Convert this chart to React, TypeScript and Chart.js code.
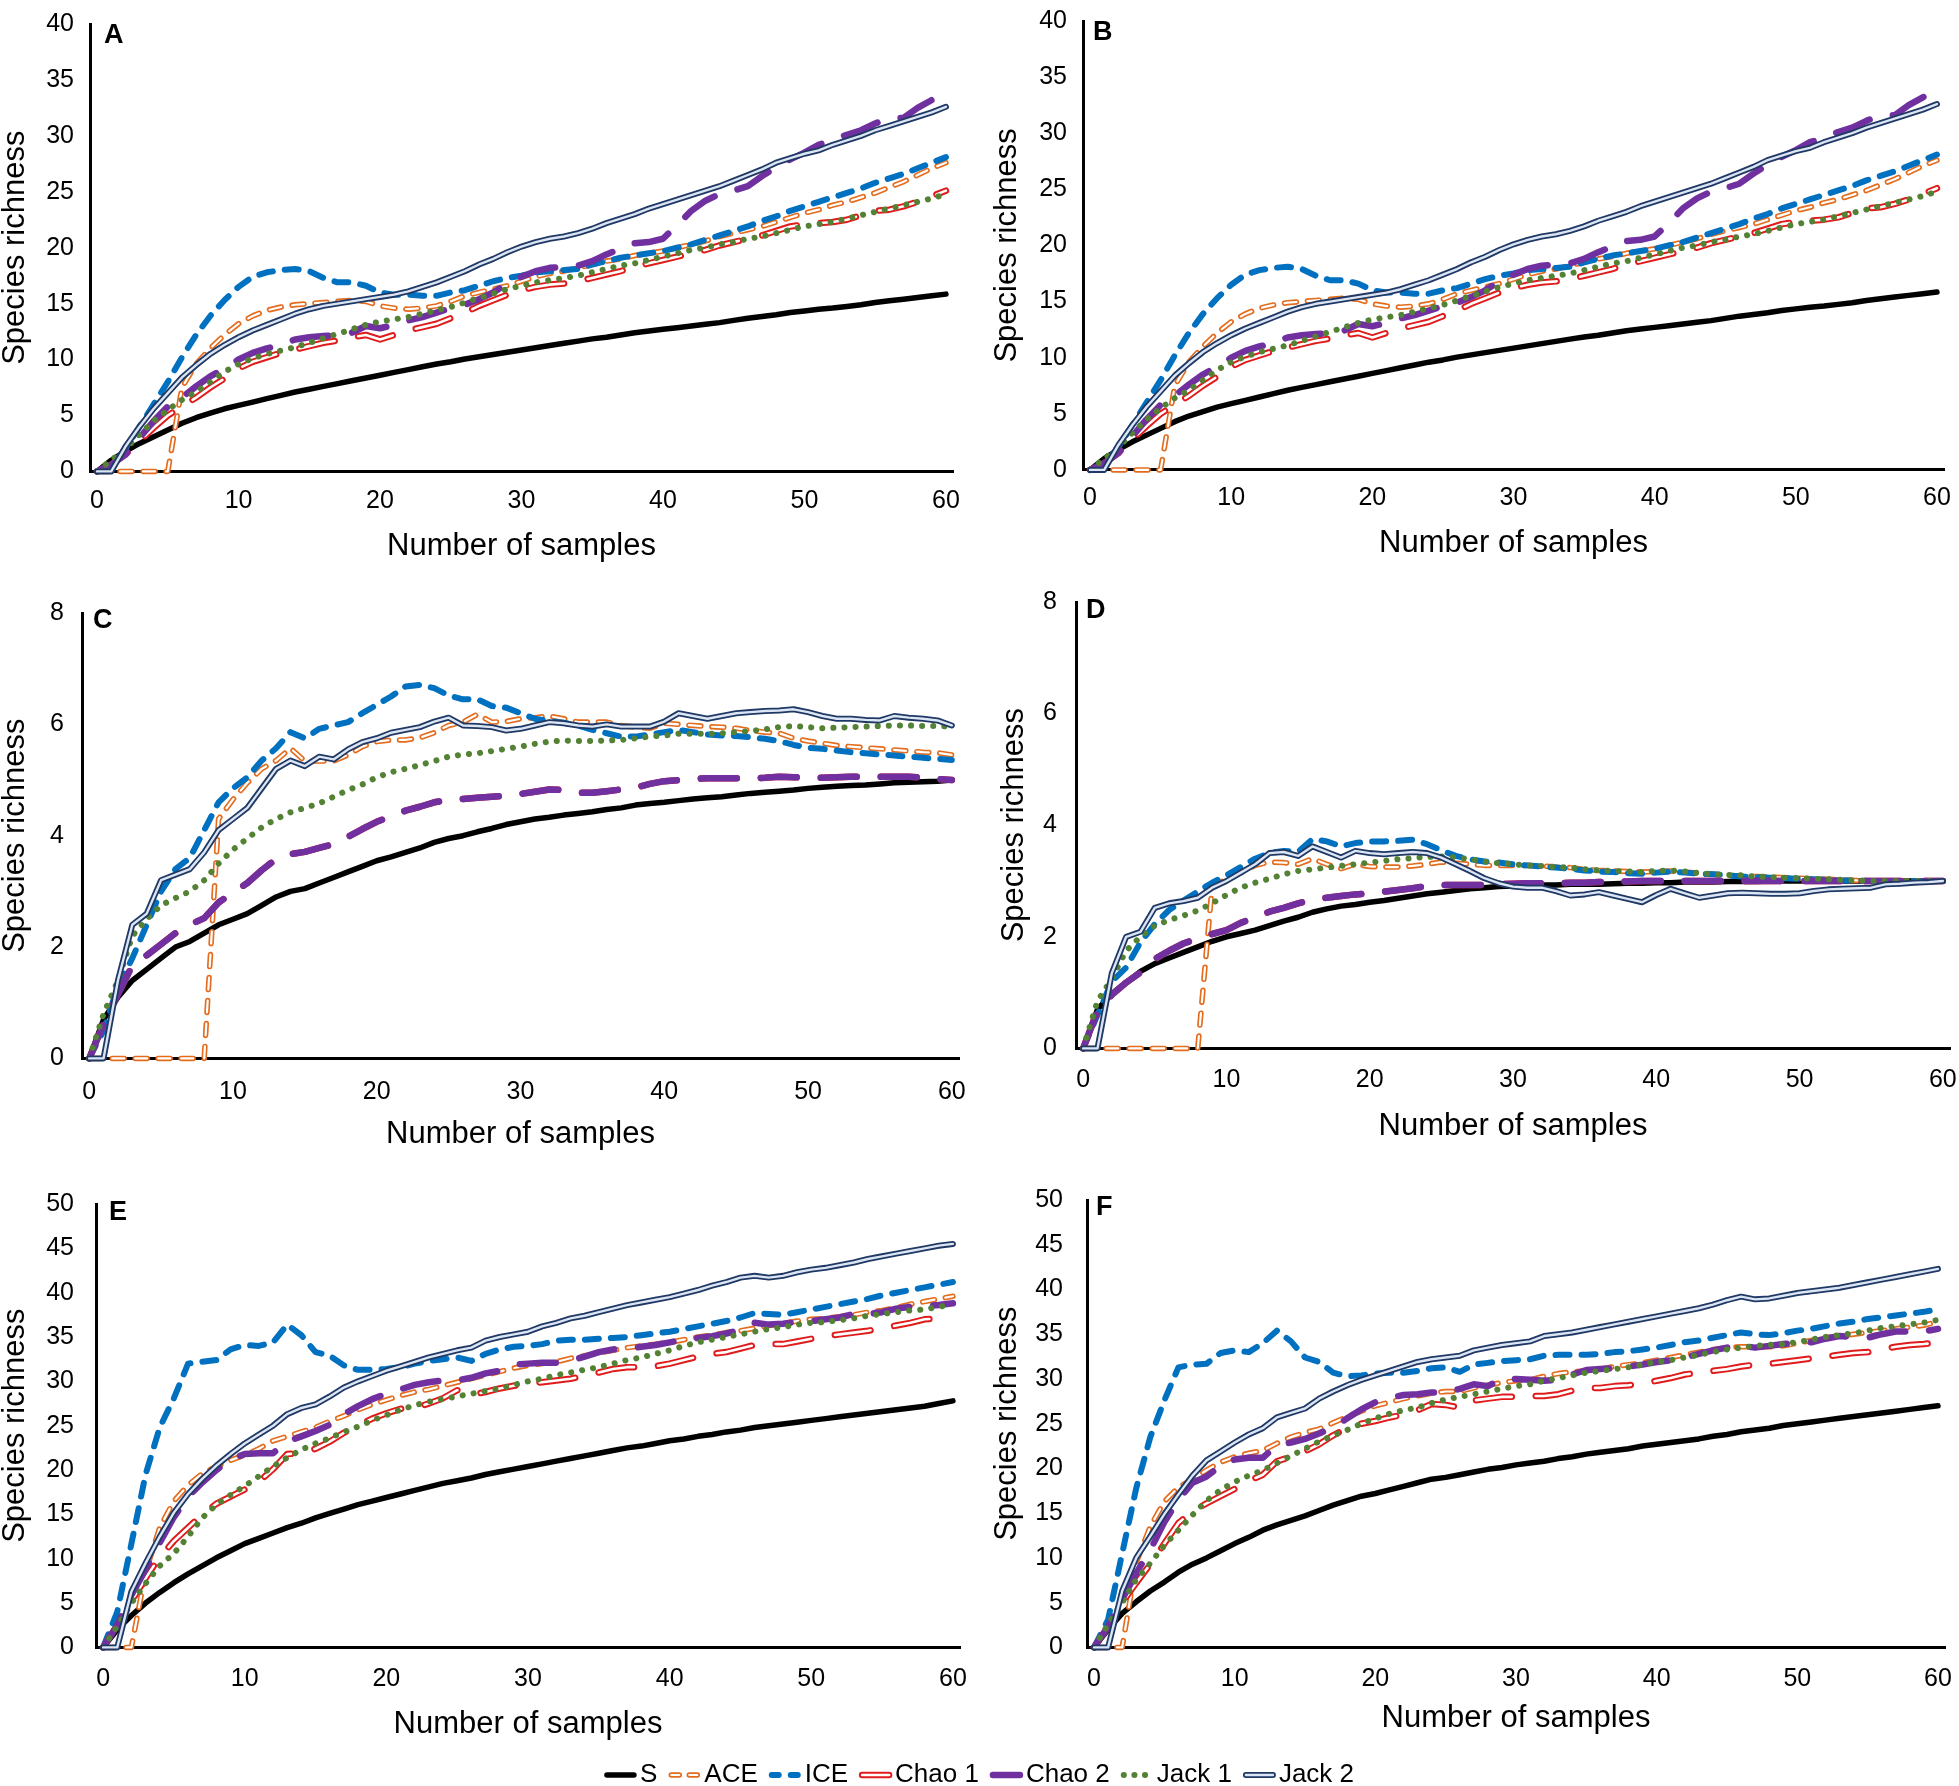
import React, { useEffect, useRef } from 'react';
import { Chart, registerables } from 'chart.js';

Chart.register(...registerables);

// ---------- categories / tick labels ----------
const SAMPLES: string[] = Array.from({ length: 61 }, (_, i) => String(i));
const X_LABEL_EVERY = 10;
const SERIES_NAMES = ['S', 'ACE', 'ICE', 'Chao 1', 'Chao 2', 'Jack 1', 'Jack 2'];
const X_TITLE = 'Number of samples';
const Y_TITLE = 'Species richness';

// ---------- panel A ----------
const A_S = [0,1.0,1.8,2.5,3.1,3.7,4.3,4.8,5.2,5.6, 5.9,6.2,6.5,6.8,7.1,7.35,7.6,7.85,8.1,8.35, 8.6,8.85,9.1,9.35,9.6,9.8,10.05,10.25,10.45,10.65, 10.85,11.05,11.25,11.45,11.65,11.85,12.0,12.2,12.4,12.55, 12.7,12.85,13.0,13.15,13.3,13.5,13.7,13.85,14.0,14.2, 14.35,14.5,14.6,14.75,14.9,15.1,15.25,15.4,15.55,15.7, 15.85];
const A_ACE = [0,0,0,0,0,0,7.5,9.6,11.0,12.2, 13.2,13.9,14.4,14.7,14.9,15.0,15.1,15.2,15.3,15.2, 14.8,14.6,14.5,14.6,14.8,15.2,15.7,16.0,16.3,16.6, 17.0,17.4,17.7,17.9,18.2,18.5,18.8,19.0,19.3,19.5, 19.7,20.0,20.3,20.6,21.0,21.3,21.6,21.9,22.3,22.7, 23.1,23.4,23.8,24.1,24.5,24.9,25.4,25.9,26.5,27.1, 27.6];
const A_ICE = [0,0.5,2.0,4.0,6.0,8.0,10.2,12.2,13.9,15.3, 16.5,17.4,17.8,18.0,18.1,17.9,17.3,16.9,16.9,16.6, 16.0,15.8,15.8,15.7,15.7,16.0,16.2,16.6,17.0,17.3, 17.5,17.8,17.9,18.0,18.1,18.5,18.8,19.1,19.3,19.5, 19.7,20.0,20.3,20.7,21.1,21.5,21.9,22.4,22.8,23.3, 23.7,24.1,24.5,24.9,25.3,25.8,26.2,26.6,27.1,27.6, 28.1];
const A_CHAO1 = [0,0.6,1.5,2.7,3.9,5.0,5.8,6.6,7.5,8.3, 9.2,9.8,10.2,10.6,10.9,11.2,11.5,11.7,12.0,12.2, 11.8,12.2,12.6,12.9,13.2,13.7,14.2,14.8,15.3,15.8, 16.2,16.5,16.7,16.8,17.0,17.3,17.6,17.9,18.3,18.6, 18.9,19.2,19.5,19.8,20.2,20.5,20.8,21.1,21.5,21.9, 22.1,22.2,22.3,22.5,22.9,23.3,23.4,23.7,24.1,24.6, 25.1];
const A_CHAO2 = [0,0.6,1.5,3.0,4.5,5.8,6.6,7.6,8.5,9.2, 10.0,10.6,11.0,11.3,11.8,12.0,12.1,12.2,12.4,13.0, 12.8,13.1,13.5,13.8,14.2,14.6,14.9,15.4,16.0,16.8, 17.4,17.9,18.2,18.3,18.4,18.8,19.4,19.9,20.4,20.5, 20.8,22.0,23.3,24.2,24.8,25.1,25.5,26.4,27.2,27.9, 28.5,29.2,29.6,30.1,30.5,31.1,31.6,31.6,32.5,33.2, 33.8];
const A_JACK1 = [0,1.0,2.0,3.3,4.5,5.5,6.4,7.1,8.0,8.9, 9.6,10.1,10.5,10.8,11.1,11.5,11.9,12.3,12.7,13.1, 13.4,13.6,13.8,14.1,14.4,14.7,15.1,15.5,15.9,16.3, 16.6,16.9,17.1,17.3,17.5,17.8,18.1,18.4,18.6,18.9, 19.2,19.5,19.8,20.0,20.3,20.5,20.8,21.0,21.3,21.6, 21.9,22.1,22.3,22.6,22.9,23.2,23.5,23.8,24.1,24.4, 24.8];
const A_JACK2 = [0,0,2.2,4.0,5.6,7.0,8.4,9.5,10.5,11.3, 12.0,12.6,13.1,13.6,14.1,14.5,14.8,15.0,15.2,15.4, 15.6,15.8,16.1,16.5,16.9,17.4,17.9,18.5,19.0,19.6, 20.1,20.5,20.8,21.0,21.3,21.7,22.2,22.6,23.0,23.5, 23.9,24.3,24.7,25.1,25.5,26.0,26.5,27.0,27.6,28.0, 28.4,28.7,29.2,29.6,30.0,30.5,30.9,31.3,31.7,32.1, 32.6];

// ---------- panel B (same curves as A) ----------
const B_S = A_S;
const B_ACE = A_ACE;
const B_ICE = A_ICE;
const B_CHAO1 = A_CHAO1;
const B_CHAO2 = A_CHAO2;
const B_JACK1 = A_JACK1;
const B_JACK2 = A_JACK2;

// ---------- panel C ----------
const C_S = [0,0.7,1.1,1.4,1.6,1.8,2.0,2.1,2.25,2.4, 2.5,2.6,2.75,2.9,3.0,3.05,3.15,3.25,3.35,3.45, 3.55,3.62,3.7,3.78,3.88,3.95,4.0,4.07,4.13,4.2, 4.25,4.3,4.33,4.37,4.4,4.43,4.47,4.5,4.55,4.58, 4.6,4.63,4.66,4.68,4.7,4.73,4.76,4.78,4.8,4.82, 4.85,4.87,4.89,4.9,4.91,4.93,4.95,4.96,4.97,4.98, 5.0];
const C_ACE = [0,0,0,0,0,0,0,0,0,4.3, 4.65,4.95,5.2,5.35,5.57,5.34,5.34,5.34,5.45,5.6, 5.69,5.72,5.72,5.76,5.85,5.98,6.04,6.18,6.04,6.05, 6.1,6.12,6.15,6.1,6.04,6.04,6.04,5.98,5.95,5.93, 6.02,6.0,5.98,5.96,5.95,5.93,5.89,5.86,5.84,5.75, 5.7,5.66,5.62,5.6,5.58,5.56,5.54,5.52,5.5,5.49, 5.45];
const C_ICE = [0,0.5,1.3,1.8,2.4,3.0,3.4,3.6,4.1,4.6, 4.85,5.05,5.35,5.57,5.86,5.75,5.92,5.98,6.04,6.2, 6.35,6.5,6.68,6.71,6.65,6.52,6.45,6.45,6.33,6.3, 6.2,6.1,6.06,6.03,5.98,5.9,5.84,5.78,5.78,5.82, 5.86,5.9,5.86,5.82,5.8,5.79,5.77,5.74,5.7,5.63, 5.58,5.56,5.53,5.5,5.48,5.46,5.44,5.42,5.4,5.38, 5.36];
const C_CHAO2 = [0,0.62,1.15,1.67,1.85,2.05,2.25,2.4,2.52,2.8, 2.98,3.15,3.38,3.58,3.67,3.71,3.78,3.85,3.98,4.12, 4.25,4.35,4.45,4.52,4.6,4.64,4.66,4.68,4.7,4.72, 4.75,4.79,4.83,4.82,4.77,4.77,4.8,4.83,4.86,4.93, 4.98,5.0,5.02,5.03,5.03,5.03,5.03,5.04,5.06,5.05, 5.04,5.04,5.05,5.06,5.06,5.06,5.06,5.06,5.04,5.02, 5.0];
const C_CHAO1 = C_CHAO2;
const C_JACK1 = [0,0.8,1.4,2.2,2.5,2.75,2.88,3.0,3.2,3.5, 3.75,3.95,4.15,4.3,4.42,4.5,4.58,4.7,4.82,4.92, 5.05,5.14,5.2,5.27,5.34,5.42,5.46,5.48,5.52,5.56, 5.6,5.65,5.69,5.71,5.7,5.7,5.71,5.72,5.75,5.78, 5.8,5.83,5.83,5.83,5.84,5.86,5.88,5.91,5.95,5.97, 5.95,5.93,5.94,5.95,5.96,5.97,5.98,5.98,5.97,5.97, 5.96];
const C_JACK2 = [0,0,1.4,2.4,2.6,3.2,3.3,3.4,3.7,4.1, 4.3,4.5,4.85,5.2,5.35,5.25,5.42,5.37,5.55,5.68, 5.75,5.85,5.9,5.95,6.05,6.12,5.98,5.97,5.95,5.89, 5.92,5.98,6.04,6.02,5.98,5.96,6.0,5.96,5.96,5.96, 6.05,6.2,6.15,6.1,6.15,6.2,6.22,6.24,6.25,6.27, 6.22,6.15,6.1,6.1,6.08,6.07,6.15,6.12,6.1,6.07, 5.98];

// ---------- panel D ----------
const D_S = [0,0.7,0.98,1.18,1.38,1.52,1.62,1.72,1.82,1.92, 2.0,2.06,2.12,2.2,2.28,2.35,2.44,2.5,2.55,2.58, 2.62,2.65,2.69,2.73,2.77,2.8,2.83,2.86,2.88,2.9, 2.91,2.92,2.93,2.93,2.94,2.94,2.94,2.95,2.96,2.96, 2.97,2.97,2.98,2.98,2.98,2.99,2.99,2.99,3.0,3.0, 3.0,3.0,3.0,3.0,3.0,3.0,3.0,3.0,3.0,3.0, 3.0];
const D_ACE = [0,0,0,0,0,0,0,0,0,2.9, 3.04,3.15,3.28,3.34,3.33,3.3,3.4,3.3,3.22,3.3, 3.26,3.25,3.25,3.27,3.3,3.34,3.32,3.3,3.28,3.28, 3.28,3.28,3.27,3.25,3.24,3.21,3.19,3.18,3.17,3.16, 3.17,3.18,3.16,3.14,3.12,3.1,3.09,3.08,3.07,3.06, 3.05,3.04,3.03,3.02,3.01,3.0,3.0,3.0,3.0,3.0, 3.0];
const D_ICE = [0,0.6,1.2,1.45,1.9,2.23,2.48,2.65,2.81,2.97, 3.1,3.25,3.4,3.5,3.54,3.52,3.75,3.71,3.62,3.68, 3.71,3.71,3.72,3.74,3.66,3.55,3.45,3.39,3.35,3.33, 3.3,3.28,3.26,3.24,3.22,3.19,3.17,3.16,3.14,3.13, 3.15,3.17,3.15,3.13,3.12,3.1,3.08,3.07,3.06,3.05, 3.04,3.03,3.02,3.01,3.01,3.0,3.0,3.0,3.0,3.0, 3.0];
const D_CHAO2 = [0,0.67,0.96,1.18,1.36,1.6,1.75,1.88,1.97,2.05, 2.12,2.25,2.35,2.45,2.52,2.6,2.67,2.7,2.73,2.76, 2.78,2.81,2.84,2.87,2.91,2.93,2.93,2.93,2.93,2.94, 2.95,2.96,2.96,2.96,2.97,2.97,2.98,2.99,2.99,3.0, 3.0,3.0,3.0,3.0,3.0,3.0,3.0,3.0,3.0,3.0, 3.0,3.0,3.0,3.0,3.0,3.0,3.0,3.0,3.0,3.0, 3.0];
const D_CHAO1 = D_CHAO2;
const D_JACK1 = [0,0.85,1.25,1.75,2.0,2.2,2.3,2.38,2.47,2.6, 2.75,2.88,2.97,3.04,3.12,3.18,3.21,3.24,3.27,3.3, 3.33,3.36,3.39,3.41,3.43,3.44,3.42,3.39,3.35,3.32, 3.3,3.28,3.27,3.25,3.24,3.21,3.19,3.18,3.17,3.16, 3.18,3.19,3.17,3.14,3.12,3.11,3.1,3.08,3.07,3.06, 3.05,3.04,3.03,3.02,3.01,3.0,3.0,3.0,3.0,3.0, 3.0];
const D_JACK2 = [0,0,1.35,2.0,2.09,2.52,2.6,2.64,2.7,2.88, 3.0,3.15,3.3,3.5,3.52,3.45,3.62,3.52,3.42,3.54, 3.5,3.48,3.5,3.52,3.5,3.42,3.3,3.18,3.05,2.96, 2.9,2.88,2.88,2.82,2.74,2.76,2.8,2.74,2.68,2.62, 2.75,2.86,2.78,2.7,2.74,2.78,2.79,2.78,2.77,2.77, 2.78,2.82,2.85,2.86,2.87,2.88,2.94,2.95,2.97,2.98, 3.0];

// ---------- panel E ----------
const E_S = [0,2.0,3.6,5.0,6.2,7.3,8.3,9.2,10.1,10.9, 11.7,12.3,12.9,13.5,14.0,14.6,15.1,15.6,16.1,16.5, 16.9,17.3,17.7,18.1,18.5,18.8,19.1,19.5,19.8,20.1, 20.4,20.7,21.0,21.3,21.6,21.9,22.2,22.5,22.7,23.0, 23.3,23.5,23.8,24.0,24.3,24.5,24.8,25.0,25.2,25.4, 25.6,25.8,26.0,26.2,26.4,26.6,26.8,27.0,27.2,27.5, 27.8];
const E_ACE = [0,0,0,8.5,13.5,16.5,18.3,19.6,20.4,21.1, 21.7,22.4,23.3,23.8,24.3,24.8,25.5,26.1,26.8,27.4, 27.9,28.4,28.8,29.1,29.5,29.9,30.3,30.7,31.1,31.5, 31.8,32.0,32.2,32.6,32.9,33.2,33.5,33.8,34.0,34.2, 34.4,34.7,35.0,35.2,35.5,35.7,36.0,36.3,36.5,36.8, 37.0,37.1,37.3,37.5,37.8,38.0,38.3,38.7,39.0,39.3, 39.6];
const E_ICE = [0,4.0,11.7,19.5,24.8,28.1,32.0,32.2,32.4,33.6, 34.1,34.0,34.4,36.4,35.2,33.3,32.9,31.8,31.3,31.3, 31.4,31.6,32.0,32.3,32.5,32.7,32.3,33.1,33.6,33.9, 34.0,34.2,34.6,34.7,34.7,34.8,34.9,35.0,35.2,35.4, 35.6,35.9,36.2,36.5,36.8,37.2,37.7,37.6,37.5,37.8, 38.1,38.4,38.7,39.0,39.3,39.7,40.0,40.3,40.6,40.9, 41.2];
const E_CHAO1 = [0,2.5,5.2,7.8,10.2,12.0,13.5,15.0,16.2,17.0, 17.8,18.7,20.1,21.8,21.9,22.4,23.2,24.2,25.0,25.8, 26.4,26.9,27.0,27.5,28.1,29.0,28.5,28.8,29.2,29.5, 29.8,29.9,30.1,30.3,30.6,31.0,31.4,31.6,31.6,31.7, 32.0,32.4,32.8,33.1,33.3,33.7,34.1,34.2,34.2,34.5, 34.8,35.1,35.3,35.5,35.7,36.0,36.3,36.6,37.0,37.1, 36.9];
const E_CHAO2 = [0,2.5,5.9,8.8,11.8,14.7,17.0,18.6,20.0,21.2, 21.8,21.9,21.9,23.2,23.8,24.4,25.1,26.3,27.2,28.0, 28.6,29.1,29.6,29.9,30.1,30.1,30.4,30.9,31.2,31.9, 32.0,32.1,32.1,32.3,32.8,33.3,33.6,33.7,33.9,34.1, 34.4,34.7,34.9,35.1,35.4,35.8,36.6,36.4,36.5,36.7, 36.8,37.0,37.2,37.6,37.6,37.8,38.2,38.4,38.5,38.6, 38.8];
const E_JACK1 = [0,2.4,5.0,7.2,9.2,10.6,12.5,14.6,16.1,17.2, 18.2,19.3,20.4,21.4,22.3,23.0,23.6,24.3,24.9,25.6, 26.2,26.8,27.3,27.7,28.0,28.3,28.6,28.9,29.2,29.6, 30.0,30.3,30.7,31.0,31.3,31.6,32.0,32.4,32.7,33.1, 33.5,34.0,34.4,34.7,35.0,35.3,35.6,35.9,36.1,36.4, 36.6,36.7,36.9,37.1,37.4,37.6,37.8,38.0,38.1,38.4, 38.7];
const E_JACK2 = [0,0,6.3,9.5,12.5,15.2,17.3,19.0,20.5,21.8, 23.0,24.0,25.0,26.3,27.0,27.4,28.3,29.3,30.0,30.6, 31.2,31.7,32.2,32.7,33.1,33.5,33.8,34.6,35.0,35.3, 35.6,36.2,36.6,37.1,37.4,37.8,38.2,38.6,38.9,39.2, 39.5,39.9,40.3,40.8,41.2,41.7,41.9,41.7,41.9,42.3, 42.6,42.8,43.1,43.4,43.8,44.1,44.4,44.7,45.0,45.3, 45.5];

// ---------- panel F ----------
const F_S = [0,2.0,3.8,5.1,6.3,7.3,8.4,9.3,10.0,10.8, 11.6,12.3,13.1,13.7,14.2,14.7,15.3,15.9,16.4,16.9, 17.2,17.6,18.0,18.4,18.8,19.0,19.3,19.6,19.9,20.1, 20.4,20.6,20.8,21.1,21.3,21.6,21.8,22.0,22.2,22.5, 22.7,22.9,23.1,23.3,23.6,23.8,24.1,24.3,24.5,24.8, 25.0,25.2,25.4,25.6,25.8,26.0,26.2,26.4,26.6,26.8, 27.0];
const F_ACE = [0,0,0,9.5,13.5,16.3,17.9,18.8,19.8,20.7, 21.3,21.7,22.0,22.8,23.5,24.0,24.4,25.1,25.8,26.4, 27.0,27.4,27.8,28.1,28.4,28.6,28.6,29.0,29.3,29.6, 29.8,29.9,30.3,30.6,30.8,30.9,31.1,31.4,31.6,31.8, 32.1,32.4,32.7,33.0,33.3,33.5,33.6,33.6,33.6,33.7, 34.0,34.3,34.6,34.8,35.0,35.2,35.4,35.6,35.8,36.0, 36.4];
const F_ICE = [0,3.1,10.5,17.8,23.5,27.6,31.3,31.6,31.7,32.9, 33.2,33.0,34.0,35.4,34.2,32.4,31.9,30.7,30.3,30.4, 30.6,30.7,30.7,30.9,31.2,31.3,30.8,31.6,31.8,32.0, 32.1,32.2,32.6,32.7,32.7,32.7,32.8,33.0,33.1,33.3, 33.5,33.8,34.1,34.3,34.6,34.9,35.2,35.0,34.9,35.1, 35.4,35.6,35.9,36.2,36.4,36.7,36.9,37.1,37.3,37.5, 37.8];
const F_CHAO1 = [0,2.3,5.0,7.2,9.3,11.6,13.9,15.2,16.1,16.9, 17.7,18.6,19.3,20.8,21.3,21.9,22.7,23.7,24.5,25.0, 25.3,25.7,26.0,26.5,27.2,27.1,26.8,27.6,27.8,28.0, 28.0,28.1,28.1,28.3,28.7,29.0,29.0,29.2,29.3,29.5, 29.8,30.1,30.5,30.7,30.9,31.1,31.4,31.6,31.7,31.9, 32.1,32.3,32.5,32.7,32.9,33.0,33.3,33.6,33.8,33.9, 34.1];
const F_CHAO2 = [0,2.3,5.4,8.3,10.9,14.0,16.5,18.4,19.1,20.3, 21.0,21.2,21.2,22.6,22.9,23.3,23.9,24.6,25.6,26.6, 27.4,27.9,28.2,28.3,28.5,28.5,28.9,29.4,29.2,30.0, 30.0,29.9,29.8,29.9,30.5,31.0,31.1,31.2,31.4,31.6, 31.9,32.1,32.4,32.8,33.2,33.5,33.7,33.5,33.7,33.9, 34.0,34.1,34.5,34.8,34.7,34.6,35.0,35.3,35.3,35.3, 35.6];
const F_JACK1 = [0,2.6,5.0,7.6,9.4,11.4,13.1,14.8,16.4,17.6, 18.5,19.2,19.8,20.6,21.4,22.2,23.0,23.7,24.3,25.0, 25.6,26.1,26.5,26.8,27.3,27.7,28.0,28.3,28.6,28.9, 29.2,29.4,29.8,30.1,30.4,30.7,30.9,31.1,31.3,31.6, 31.9,32.1,32.4,32.7,33.0,33.3,33.5,33.7,33.8,33.9, 34.1,34.4,34.7,34.9,35.1,35.4,35.7,35.9,36.1,36.3, 36.6];
const F_JACK2 = [0,0,6.3,10.0,12.4,14.9,17.1,19.2,20.9,21.9, 22.9,23.8,24.5,25.7,26.2,26.7,27.8,28.6,29.3,29.9, 30.4,30.9,31.4,31.9,32.2,32.4,32.6,33.2,33.5,33.8, 34.0,34.2,34.8,35.0,35.2,35.5,35.8,36.1,36.4,36.7, 37.0,37.3,37.6,37.9,38.3,38.8,39.2,38.9,39.0,39.3, 39.6,39.8,40.0,40.2,40.5,40.8,41.1,41.4,41.7,42.0, 42.3];

// ---------- y-axis ranges ----------
const Y_MAX_AB = 40, Y_STEP_AB = 5;
const Y_MAX_CD = 8, Y_STEP_CD = 2;
const Y_MAX_EF = 50, Y_STEP_EF = 5;

// ---------- styles ----------
const FONT = '"Liberation Sans", Arial, Helvetica, sans-serif';
const TICK_SIZE = 25;
const TITLE_SIZE = 31;
const TITLE_HALF = (TITLE_SIZE * 1.2) / 2;
const LETTER_SIZE = 27;

type Stroke = { color: string; width: number; dash: number[]; legendDash?: number[] };
const STYLES: Stroke[][] = [
  [{ color: '#000000', width: 5.5, dash: [] }],
  [
    { color: '#E46C1E', width: 5.5, dash: [12, 11], legendDash: [8, 10] },
    { color: '#FFFFFF', width: 2.2, dash: [12, 11], legendDash: [8, 10] },
  ],
  [{ color: '#0070C0', width: 6, dash: [14, 12], legendDash: [7, 12] }],
  [
    { color: '#E01B1B', width: 6.5, dash: [36, 24] },
    { color: '#FFFFFF', width: 2.6, dash: [36, 24] },
  ],
  [{ color: '#7030A0', width: 6.5, dash: [36, 24] }],
  [{ color: '#548235', width: 6, dash: [0.1, 11], legendDash: [0.1, 10.5] }],
  [
    { color: '#1F3864', width: 6, dash: [] },
    { color: '#DCE5F4', width: 2.4, dash: [] },
  ],
];

type Lay = {
  L: number; T: number; R: number; B: number;
  xTickPad: number; yTickPad: number; xTitleOff: number; yTitleX: number;
  letterX: number; letterTop: number;
};

const YW = 110; // y-axis box width
const PT = 20; // padding top
const PR = 30; // padding right

function buildDatasets(series: number[][]) {
  const out: any[] = [];
  let order = 100;
  series.forEach((data, si) => {
    STYLES[si].forEach((st) => {
      out.push({
        label: SERIES_NAMES[si],
        data,
        borderColor: st.color,
        backgroundColor: st.color,
        borderWidth: st.width,
        borderDash: st.dash,
        borderCapStyle: 'round',
        borderJoinStyle: 'round',
        pointRadius: 0,
        pointHoverRadius: 0,
        fill: false,
        tension: 0,
        clip: false,
        order: order--,
      });
    });
  });
  return out;
}

function Panel(props: { letter: string; series: number[][]; yMax: number; yStep: number; lay: Lay }) {
  const { letter, series, yMax, yStep, lay } = props;
  const ref = useRef<HTMLCanvasElement | null>(null);
  const XH = lay.xTitleOff + TITLE_HALF;
  const width = Math.round(YW + (lay.R - lay.L) + PR);
  const height = Math.round(PT + (lay.B - lay.T) + XH);
  const left = lay.L - YW;
  const top = lay.T - PT;

  useEffect(() => {
    const canvas = ref.current;
    if (!canvas) return;
    const yTitlePad = YW - (lay.L - lay.yTitleX) - TITLE_HALF;
    const letterPlugin = {
      id: 'panelLetter' + letter,
      afterDraw(chart: any) {
        const ctx = chart.ctx;
        ctx.save();
        ctx.font = `bold ${LETTER_SIZE}px ${FONT}`;
        ctx.fillStyle = '#000';
        ctx.textBaseline = 'alphabetic';
        ctx.textAlign = 'left';
        ctx.fillText(letter, lay.letterX - left, lay.letterTop + LETTER_SIZE * 0.716 - top);
        ctx.restore();
      },
    };
    const chart = new Chart(canvas, {
      type: 'line',
      data: { labels: SAMPLES, datasets: buildDatasets(series) },
      options: {
        responsive: false,
        animation: false,
        devicePixelRatio: 1,
        events: [],
        layout: { padding: { top: PT, right: PR, left: 0, bottom: 0 } },
        plugins: { legend: { display: false }, tooltip: { enabled: false } },
        scales: {
          x: {
            type: 'category',
            offset: true,
            grid: { display: false, drawTicks: false },
            border: { display: true, color: '#000', width: 3 },
            ticks: {
              autoSkip: false,
              maxRotation: 0,
              minRotation: 0,
              padding: lay.xTickPad,
              color: '#000',
              font: { family: FONT, size: TICK_SIZE },
              callback: (_v: any, i: number) => (i % X_LABEL_EVERY === 0 ? SAMPLES[i] : ''),
            },
            title: {
              display: true,
              text: X_TITLE,
              color: '#000',
              font: { family: FONT, size: TITLE_SIZE },
              padding: 0,
            },
            afterFit: (s: any) => {
              s.height = XH;
            },
          },
          y: {
            min: 0,
            max: yMax,
            grid: { display: false, drawTicks: false },
            border: { display: true, color: '#000', width: 3 },
            ticks: {
              stepSize: yStep,
              padding: lay.yTickPad,
              color: '#000',
              font: { family: FONT, size: TICK_SIZE },
            },
            title: {
              display: true,
              text: Y_TITLE,
              color: '#000',
              font: { family: FONT, size: TITLE_SIZE },
              padding: { top: yTitlePad, bottom: 0 },
            },
            afterFit: (s: any) => {
              s.width = YW;
            },
          },
        },
      } as any,
      plugins: [letterPlugin],
    });
    return () => chart.destroy();
  }, []);

  return (
    <canvas
      ref={ref}
      width={width}
      height={height}
      style={{ position: 'absolute', left, top, width, height }}
    />
  );
}

const LEGEND_TOP = 1752;
const LEGEND_HEIGHT = 34;
const LEGEND_CENTER_X = 979;
const LEGEND_CENTER_Y = 1775;

function Legend() {
  const ref = useRef<HTMLCanvasElement | null>(null);
  useEffect(() => {
    const canvas = ref.current;
    if (!canvas) return;
    const legendPlugin = {
      id: 'customLegend',
      afterDraw(chart: any) {
        const ctx = chart.ctx;
        ctx.save();
        ctx.font = `26px ${FONT}`;
        const sampleW = 33, gapST = 3, gapItem = 11;
        const widths = SERIES_NAMES.map((n) => ctx.measureText(n).width);
        const total =
          widths.reduce((a, b) => a + b, 0) +
          SERIES_NAMES.length * (sampleW + gapST) +
          (SERIES_NAMES.length - 1) * gapItem;
        let x = LEGEND_CENTER_X - total / 2;
        const y = LEGEND_CENTER_Y - LEGEND_TOP;
        SERIES_NAMES.forEach((name, i) => {
          STYLES[i].forEach((st) => {
            ctx.beginPath();
            ctx.setLineDash(st.legendDash ?? st.dash);
            ctx.lineWidth = st.width;
            ctx.strokeStyle = st.color;
            ctx.lineCap = 'round';
            ctx.moveTo(x + 3, y);
            ctx.lineTo(x + sampleW - 3, y);
            ctx.stroke();
          });
          ctx.setLineDash([]);
          ctx.fillStyle = '#000';
          ctx.textBaseline = 'middle';
          ctx.textAlign = 'left';
          ctx.fillText(name, x + sampleW + gapST, y);
          x += sampleW + gapST + widths[i] + gapItem;
        });
        ctx.restore();
      },
    };
    const chart = new Chart(canvas, {
      type: 'line',
      data: { labels: [], datasets: [] },
      options: {
        responsive: false,
        animation: false,
        devicePixelRatio: 1,
        events: [],
        plugins: { legend: { display: false }, tooltip: { enabled: false } },
        scales: { x: { display: false }, y: { display: false } },
      } as any,
      plugins: [legendPlugin],
    });
    return () => chart.destroy();
  }, []);
  return (
    <canvas
      ref={ref}
      width={1959}
      height={LEGEND_HEIGHT}
      style={{ position: 'absolute', left: 0, top: LEGEND_TOP, width: 1959, height: LEGEND_HEIGHT }}
    />
  );
}

const LAYOUTS: Record<string, Lay> = {
  A: { L: 90, T: 13, R: 953, B: 471, xTickPad: 15, yTickPad: 16, xTitleOff: 75, yTitleX: 15, letterX: 104, letterTop: 24 },
  B: { L: 1083, T: 10, R: 1944, B: 470, xTickPad: 13, yTickPad: 16, xTitleOff: 73.5, yTitleX: 1007, letterX: 1093, letterTop: 21 },
  C: { L: 82, T: 600, R: 959, B: 1058, xTickPad: 19, yTickPad: 18, xTitleOff: 76, yTitleX: 15, letterX: 93, letterTop: 609 },
  D: { L: 1076, T: 588, R: 1950, B: 1048, xTickPad: 17, yTickPad: 19, xTitleOff: 78, yTitleX: 1014, letterX: 1086, letterTop: 599 },
  E: { L: 96, T: 1187, R: 960, B: 1647, xTickPad: 17, yTickPad: 22, xTitleOff: 77, yTitleX: 15, letterX: 109, letterTop: 1201 },
  F: { L: 1087, T: 1181, R: 1945, B: 1647, xTickPad: 17, yTickPad: 24, xTitleOff: 71, yTitleX: 1007, letterX: 1096, letterTop: 1196 },
};

export default function App() {
  return (
    <div
      style={{
        position: 'absolute',
        left: 0,
        top: 0,
        width: 1959,
        height: 1786,
        overflow: 'hidden',
        background: '#fff',
      }}
    >
      <Panel letter="A" series={[A_S, A_ACE, A_ICE, A_CHAO1, A_CHAO2, A_JACK1, A_JACK2]} yMax={Y_MAX_AB} yStep={Y_STEP_AB} lay={LAYOUTS.A} />
      <Panel letter="B" series={[B_S, B_ACE, B_ICE, B_CHAO1, B_CHAO2, B_JACK1, B_JACK2]} yMax={Y_MAX_AB} yStep={Y_STEP_AB} lay={LAYOUTS.B} />
      <Panel letter="C" series={[C_S, C_ACE, C_ICE, C_CHAO1, C_CHAO2, C_JACK1, C_JACK2]} yMax={Y_MAX_CD} yStep={Y_STEP_CD} lay={LAYOUTS.C} />
      <Panel letter="D" series={[D_S, D_ACE, D_ICE, D_CHAO1, D_CHAO2, D_JACK1, D_JACK2]} yMax={Y_MAX_CD} yStep={Y_STEP_CD} lay={LAYOUTS.D} />
      <Panel letter="E" series={[E_S, E_ACE, E_ICE, E_CHAO1, E_CHAO2, E_JACK1, E_JACK2]} yMax={Y_MAX_EF} yStep={Y_STEP_EF} lay={LAYOUTS.E} />
      <Panel letter="F" series={[F_S, F_ACE, F_ICE, F_CHAO1, F_CHAO2, F_JACK1, F_JACK2]} yMax={Y_MAX_EF} yStep={Y_STEP_EF} lay={LAYOUTS.F} />
      <Legend />
    </div>
  );
}
